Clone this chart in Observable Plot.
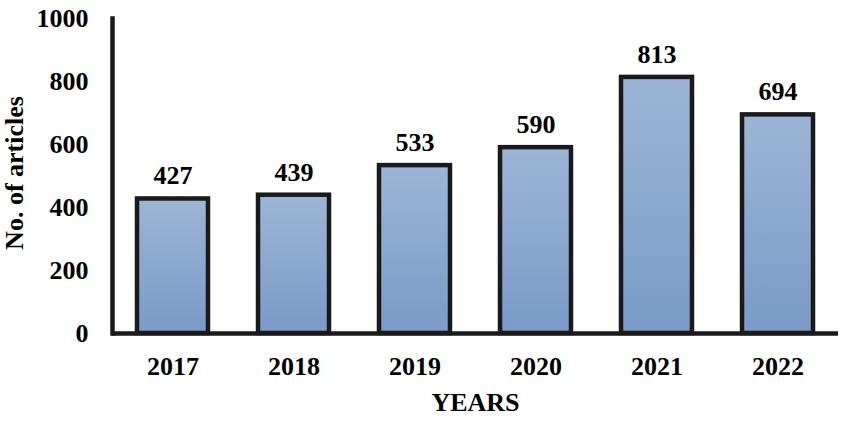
<!DOCTYPE html>
<html>
<head>
<meta charset="utf-8">
<script src="https://cdn.jsdelivr.net/npm/d3@7"></script>
<script src="https://cdn.jsdelivr.net/npm/@observablehq/plot@0.6"></script>
<style>
  body { margin: 0; background: #fff; }
  #chart svg { display: block; }
</style>
</head>
<body>
<div id="chart"></div>
<script>
const years = ["2017", "2018", "2019", "2020", "2021", "2022"];
const articles = [427, 439, 533, 590, 813, 694];
const yTicks = [0, 200, 400, 600, 800, 1000];
const xTitle = "YEARS";
const yTitle = "No. of articles";

const data = years.map((y, i) => ({year: y, n: articles[i]}));
const font = "'Liberation Serif', 'Times New Roman', serif";

const svg = Plot.plot({
  width: 842,
  height: 421,
  marginLeft: 112,
  marginRight: 4,
  marginTop: 18,
  marginBottom: 88,
  style: {fontFamily: font, fontSize: "26px", fontWeight: "bold", color: "#000", background: "#fff"},
  x: {domain: years, paddingInner: 0.41, paddingOuter: 0.205, tickSize: 0, tickPadding: 23, label: null},
  y: {domain: [0, 1000], ticks: yTicks, tickFormat: "d", tickSize: 0, tickPadding: 24, label: null},
  marks: [
    Plot.barY(data, {x: "year", y: "n", fill: "url(#barGrad)", stroke: "#1a1a1a", strokeWidth: 4.5}),
    Plot.ruleY([0], {stroke: "#1a1a1a", strokeWidth: 4.5}),
    Plot.frame({anchor: "left", stroke: "#1a1a1a", strokeWidth: 4.5}),
    Plot.text(data, {x: "year", y: "n", text: d => String(d.n), dy: -23, fontSize: 26, fontWeight: "bold", fill: "#000"}),
    Plot.text([xTitle], {frameAnchor: "bottom", lineAnchor: "middle", dy: 69, fontSize: 26, fontWeight: "bold", fill: "#000"}),
    Plot.text([yTitle], {frameAnchor: "left", textAnchor: "middle", lineAnchor: "middle", rotate: -90, dx: -98, dy: -3, fontSize: 26, fontWeight: "bold", fill: "#000"})
  ]
});

const defs = d3.select(svg).insert("defs", ":first-child");
const g = defs.append("linearGradient").attr("id", "barGrad").attr("x1", 0).attr("y1", 0).attr("x2", 0).attr("y2", 1);
g.append("stop").attr("offset", "0%").attr("stop-color", "#9cb5d5");
g.append("stop").attr("offset", "100%").attr("stop-color", "#7a9bc8");

document.getElementById("chart").appendChild(svg);
</script>
</body>
</html>
